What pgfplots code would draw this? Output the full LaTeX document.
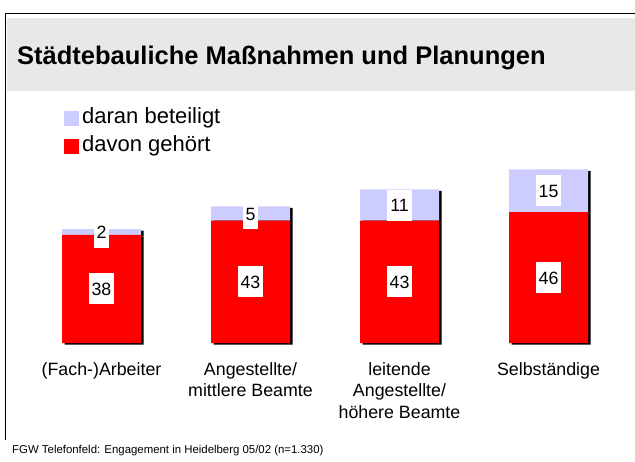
\documentclass[border=0pt]{standalone}
\usepackage{fontspec}
\setmainfont{Liberation Sans}
\usepackage{pgfplots}
\usepackage{pgfplotstable}
\pgfplotsset{compat=1.18}
\definecolor{lav}{HTML}{CCCCFF}
\definecolor{band}{HTML}{E8E8E8}

% red = davon gehoert, lav = daran beteiligt
\pgfplotstableread{
x red lav
0 38 2
1 43 5
2 43 11
3 46 15
}\datatable

\pgfplotsset{
  barbase/.style={
    x=149pt, y=2.845pt,
    xmin=-0.5, xmax=3.5, ymin=0, ymax=65,
    anchor=origin,
    ybar stacked, bar width=79pt,
    axis line style={draw=none},
    major tick length=0pt,
    ytick=\empty,
    clip=false,
  }
}

\begin{document}
\begin{tikzpicture}
\path[use as bounding box] (0pt,0pt) rectangle (635pt,-461pt);
\fill[band] (7pt,-17.7pt) rectangle (635pt,-90.7pt);
\draw[line width=1.2pt] (5.3pt,-440pt) -- (5.3pt,-13.3pt) -- (636pt,-13.3pt);
\node[anchor=base west, font=\bfseries\fontsize{25.5}{30}\selectfont, inner sep=0pt]
  at (17pt,-64pt) {Städtebauliche Maßnahmen und Planungen};
\node[anchor=west, font=\fontsize{11.4}{13}\selectfont, inner sep=0pt]
  at (12pt,-451pt) {FGW Telefonfeld: Engagement in Heidelberg 05/02 (n=1.330)};

% shadow behind the bars
\begin{axis}[barbase, at={(104pt,-344.5pt)}, xtick=\empty]
\addplot[fill=black, draw=none] table[x=x, y=red] {\datatable};
\addplot[fill=black, draw=none] table[x=x, y=lav] {\datatable};
\end{axis}

\begin{axis}[barbase, at={(101.5pt,-343pt)},
  xtick={0,1,2,3},
  xticklabels={{(Fach-)Arbeiter}, {Angestellte/\\mittlere Beamte},
    {leitende\\Angestellte/\\höhere Beamte}, Selbständige},
  xticklabel style={font=\fontsize{17.8}{21.5}\selectfont, align=center, yshift=-16pt},
  visualization depends on=rawy \as \seg,
  nodes near coords={\pgfmathprintnumber[fixed, precision=0, assume math mode=true]{\seg}},
  every node near coord/.append style={anchor=center, fill=white, text=black,
    font=\fontsize{17.8}{20}\selectfont, inner xsep=3pt, inner ysep=9pt,
    text height=13pt, text depth=0pt},
  reverse legend,
  legend image code/.code={\fill[#1] (0pt,-7.5pt) rectangle (15pt,7.5pt);},
  legend style={at={(axis cs:-0.2517,84)}, anchor=north west, draw=none, fill=none,
    inner sep=0pt, font=\fontsize{22}{26}\selectfont, cells={anchor=west},
    nodes={text height=16pt, text depth=5pt, inner ysep=3.5pt, inner xsep=3pt}},
]
\addplot[fill=red, draw=none] table[x=x, y=red] {\datatable};
\addplot[fill=lav, draw=none] table[x=x, y=lav] {\datatable};
\legend{davon gehört, daran beteiligt}
\end{axis}
\end{tikzpicture}
\end{document}
